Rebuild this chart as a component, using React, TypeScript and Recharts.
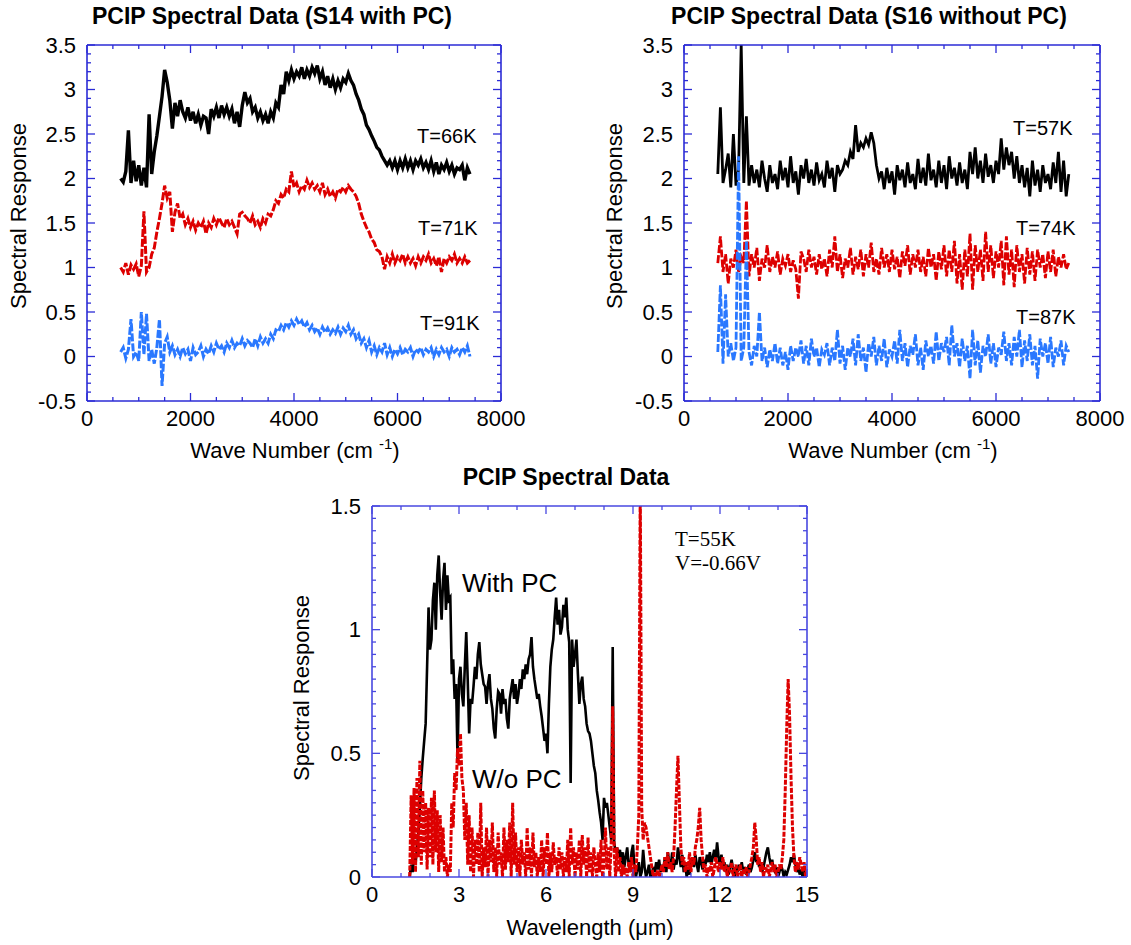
import React from 'react';
import { LineChart, Line, XAxis, YAxis } from 'recharts';

// ---------- categories / grids ----------
const waveNumbers: number[] = Array.from({ length: 136 }, (_, i) => 650 + 50 * i);
const wavelengths: number[] = Array.from({ length: 275 }, (_, i) => Math.round((1.3 + 0.05 * i) * 100) / 100);

// ---------- tick labels ----------
const waveTickLabels = [0, 2000, 4000, 6000, 8000];
const respTickLabels = [-0.5, 0, 0.5, 1, 1.5, 2, 2.5, 3, 3.5];
const lambdaTickLabels = [0, 3, 6, 9, 12, 15];
const respBottomTickLabels = [0, 0.5, 1, 1.5];

// ---------- S14 with PC ----------
const s14T66 = [
  2.0, 1.96, 2.08, 2.54, 1.95, 2.2, 1.97, 2.15, 1.92, 2.12,
  1.9, 2.72, 2.05, 2.3, 2.48, 2.7, 2.92, 3.22, 3.08, 2.88,
  2.56, 2.85, 2.7, 2.88, 2.75, 2.68, 2.8, 2.65, 2.75, 2.62,
  2.72, 2.6, 2.7, 2.68, 2.5, 2.78, 2.7, 2.8, 2.68, 2.82,
  2.72, 2.8, 2.7, 2.78, 2.62, 2.75, 2.58, 2.82, 2.97, 2.85,
  2.9, 2.75, 2.8, 2.68, 2.75, 2.65, 2.72, 2.62, 2.75, 2.68,
  2.85, 2.8, 3.05, 2.95, 3.2, 3.1, 3.22, 3.12, 3.2, 3.15,
  3.25, 3.12, 3.22, 3.15, 3.25, 3.18, 3.27, 3.12, 3.2, 3.05,
  3.15, 3.02, 3.12, 3.0, 3.1, 3.02, 3.12, 3.08, 3.18, 3.1,
  3.05, 2.95, 2.88, 2.78, 2.72, 2.6, 2.55, 2.48, 2.42, 2.35,
  2.32, 2.25, 2.2, 2.15, 2.2, 2.12, 2.2, 2.1, 2.2, 2.12,
  2.22, 2.12, 2.2, 2.1, 2.2, 2.15, 2.22, 2.12, 2.18, 2.1,
  2.2, 2.08, 2.18, 2.05, 2.15, 2.1, 2.18, 2.08, 2.15, 2.05,
  2.12, 2.1, 2.15, 1.98, 2.12, 2.05,
];
const s14T71 = [
  1.0, 0.95, 1.05, 0.92, 1.03, 0.98, 1.04, 0.9, 1.02, 1.63,
  0.95, 1.0, 1.15, 1.22, 1.4, 1.55, 1.72, 1.92, 1.78, 1.85,
  1.4, 1.62, 1.72, 1.55, 1.6, 1.48, 1.55, 1.45, 1.52, 1.42,
  1.5, 1.45, 1.52, 1.38, 1.5, 1.45, 1.55, 1.48, 1.56, 1.5,
  1.45, 1.55, 1.48, 1.52, 1.45, 1.38, 1.6, 1.62, 1.58, 1.55,
  1.5, 1.58, 1.48, 1.52, 1.45, 1.55, 1.5, 1.6, 1.58, 1.65,
  1.75, 1.72, 1.82, 1.78, 1.88, 1.85, 2.08, 1.9, 1.95, 1.85,
  1.92, 1.88, 1.98, 1.9, 1.95, 1.88, 1.92, 1.85, 1.95, 1.82,
  1.88, 1.8, 1.85, 1.78, 1.88, 1.85, 1.9, 1.85, 1.92, 1.88,
  1.85, 1.8, 1.72, 1.6, 1.52, 1.45, 1.4, 1.32, 1.28, 1.2,
  1.18, 1.12, 0.98, 1.12, 1.05, 1.15, 1.05, 1.12, 1.08, 1.15,
  1.05, 1.12, 1.05, 1.1, 1.02, 1.12, 1.05, 1.12, 1.08, 1.15,
  1.05, 1.1, 1.02, 1.12, 0.95, 1.1, 1.05, 1.12, 1.08, 1.15,
  1.05, 1.1, 1.05, 1.12, 1.05, 1.08,
];
const s14T91 = [
  0.05, 0.1, -0.02, 0.08, 0.42, 0.0, 0.05, -0.05, 0.5, 0.02,
  0.48, -0.05, 0.08, -0.08, 0.1, 0.42, -0.33, 0.15, 0.22, 0.05,
  0.12, 0.02, 0.08, 0.0, 0.1, 0.03, 0.08, -0.05, 0.1, 0.02,
  0.05, 0.12, 0.0, 0.08, 0.03, 0.12, 0.05, 0.15, 0.08, 0.12,
  0.05, 0.15, 0.1, 0.18, 0.1, 0.15, 0.12, 0.2, 0.12, 0.18,
  0.15, 0.1, 0.2, 0.12, 0.22, 0.15, 0.2, 0.15, 0.25, 0.2,
  0.3, 0.28, 0.35, 0.3, 0.38, 0.33, 0.4, 0.35, 0.42, 0.36,
  0.4, 0.33, 0.38, 0.3, 0.35, 0.28, 0.32, 0.25, 0.33, 0.27,
  0.32, 0.25, 0.3, 0.26, 0.33, 0.25, 0.32, 0.28, 0.35, 0.25,
  0.3, 0.2, 0.25, 0.15, 0.2, 0.1, 0.18, 0.05, 0.12, 0.02,
  0.1, 0.05, 0.15, 0.02, 0.1, 0.0, 0.08, 0.03, 0.1, 0.02,
  0.08, 0.05, 0.1, 0.0, 0.08, 0.05, 0.1, 0.02, 0.08, 0.05,
  0.1, 0.0, 0.08, 0.02, 0.1, 0.05, 0.08, 0.0, 0.1, 0.05,
  0.08, 0.02, 0.1, 0.05, 0.12, 0.0,
];

// ---------- S16 without PC ----------
const s16T57 = [
  2.05, 2.8, 1.95, 2.1, 2.28, 1.9, 2.5, 1.92, 2.1, 3.5,
  1.95, 2.7, 1.92, 2.15, 1.95, 2.1, 1.9, 2.2, 2.0, 1.85,
  2.15, 1.95, 2.05, 1.88, 2.2, 1.98, 2.12, 1.9, 2.25, 1.95,
  2.08, 1.82, 2.15, 2.0, 2.22, 1.95, 2.1, 1.92, 2.18, 1.98,
  2.05, 1.9, 2.2, 2.0, 2.12, 1.85, 2.15, 2.05, 2.1, 2.2,
  2.15, 2.3, 2.22, 2.6, 2.3, 2.4, 2.35, 2.45, 2.38, 2.52,
  2.4, 2.15, 2.0, 2.08, 1.88, 2.12, 1.95, 2.08, 1.82, 2.15,
  1.98, 2.1, 1.9, 2.18, 1.95, 2.05, 1.88, 2.22, 1.95, 2.12,
  1.92, 2.28, 1.98, 2.1, 1.9, 2.2, 1.95, 2.15, 1.88, 2.25,
  2.0, 2.12, 1.92, 2.18, 1.95, 2.1, 1.88, 2.3, 2.05, 2.35,
  2.0, 2.2, 1.95, 2.28, 2.02, 2.15, 1.95, 2.2, 2.05, 2.45,
  2.1, 2.35, 2.15, 2.3, 2.0, 2.25, 1.95, 2.15, 1.9, 2.12,
  1.8, 2.2, 1.92, 2.1, 1.85, 2.15, 1.95, 2.05, 1.88, 2.18,
  1.95, 2.3, 1.85, 2.2, 1.8, 2.05,
];
const s16T74 = [
  1.05, 1.35, 0.95, 1.15, 0.82, 1.1, 1.0, 1.2, 0.95, 1.12,
  1.05, 1.75, 0.9, 1.15, 1.0, 1.22, 0.85, 1.1, 1.0, 1.25,
  0.95, 1.12, 1.0, 1.18, 0.92, 1.1, 1.02, 1.15, 0.95, 1.08,
  0.98, 0.65, 1.18, 1.1, 0.95, 1.2, 1.0, 1.12, 0.92, 1.15,
  0.98, 1.1, 0.9, 1.2, 1.0, 1.35, 0.95, 1.15, 0.88, 1.1,
  1.0, 1.22, 0.92, 1.12, 0.98, 1.2, 0.9, 1.15, 1.0, 1.28,
  0.95, 1.1, 0.92, 1.22, 1.0, 1.15, 0.95, 1.2, 0.98, 1.12,
  0.88, 1.18, 1.02, 1.25, 0.92, 1.15, 1.0, 1.2, 0.95, 1.12,
  0.9, 1.22, 1.0, 1.15, 0.85, 1.18, 0.98, 1.25, 0.9, 1.2,
  0.95, 1.3, 0.82, 1.15, 0.75, 1.2, 0.9, 1.38, 0.75, 1.25,
  0.95, 1.2, 0.85, 1.4, 0.95, 1.25, 0.88, 1.18, 1.0, 1.3,
  0.8, 1.35, 0.92, 1.2, 0.78, 1.25, 0.95, 1.15, 0.82, 1.22,
  0.92, 1.18, 0.85, 1.2, 1.0, 1.15, 0.88, 1.18, 0.95, 1.2,
  0.9, 1.12, 1.0, 1.15, 0.98, 1.05,
];
const s16T87 = [
  0.05, 0.8, -0.08, 0.7, 0.0, 0.15, -0.05, 0.1, 2.25, -0.05,
  0.1, 1.3, 0.05, -0.1, 0.12, 0.0, 0.5, -0.05, 0.1, -0.12,
  0.08, -0.05, 0.15, -0.08, 0.1, -0.1, 0.05, -0.15, 0.12, -0.05,
  0.1, 0.0, 0.18, -0.08, 0.12, -0.1, 0.2, 0.0, 0.1, -0.12,
  0.08, 0.02, 0.15, -0.1, 0.1, -0.05, 0.3, -0.08, 0.12, -0.15,
  0.1, 0.0, 0.2, -0.1, 0.25, -0.05, 0.1, -0.18, 0.15, 0.0,
  0.22, -0.1, 0.12, -0.05, 0.2, -0.12, 0.08, 0.0, 0.18, -0.08,
  0.3, -0.05, 0.15, -0.12, 0.12, 0.02, 0.25, -0.1, 0.1, -0.15,
  0.18, 0.0, 0.12, -0.08, 0.28, -0.05, 0.15, 0.05, 0.22, -0.1,
  0.35, 0.0, 0.15, -0.12, 0.2, -0.05, 0.12, -0.25, 0.3, -0.1,
  0.18, -0.18, 0.12, 0.0, 0.25, -0.08, 0.15, -0.12, 0.1, 0.02,
  0.28, -0.05, 0.15, -0.1, 0.22, 0.0, 0.3, -0.12, 0.18, -0.05,
  0.25, -0.1, 0.12, -0.25, 0.2, 0.0, 0.15, -0.08, 0.22, -0.12,
  0.1, 0.0, 0.18, -0.1, 0.12, 0.05,
];

// ---------- wavelength panel ----------
const withPC = [
  0.0, 0.05, 0.02, 0.08, 0.05, 0.12, 0.18, 0.28, 0.4, 0.48, 0.55, 0.62, 0.85, 1.09,
  0.92, 0.96, 1.12, 1.19, 1.0, 1.22, 1.3, 1.15, 1.04, 1.2, 1.27, 1.08, 1.22, 1.12, 1.13, 0.82, 0.88, 0.72, 0.78, 0.47,
  0.8, 0.85, 0.74, 0.69, 0.85, 0.99, 0.8, 0.58, 0.72, 0.7, 0.77, 0.85, 0.8, 0.9, 0.95, 0.86, 0.82, 0.78, 0.77, 0.7,
  0.78, 0.82, 0.72, 0.68, 0.6, 0.56, 0.68, 0.75, 0.74, 0.66, 0.76, 0.7, 0.72, 0.64, 0.6, 0.72, 0.76, 0.8, 0.72, 0.78,
  0.7, 0.74, 0.8, 0.76, 0.84, 0.8, 0.86, 0.82, 0.88, 0.9, 0.97, 0.85, 0.8, 0.76, 0.72, 0.74, 0.69, 0.65, 0.6, 0.55,
  0.58, 0.5, 0.7, 0.85, 0.92, 0.96, 1.05, 1.13, 1.02, 1.08, 0.98, 1.01, 1.1, 1.05, 1.13, 1.0, 0.95, 0.38, 0.96, 0.85,
  0.9, 0.96, 0.82, 0.7, 0.78, 0.81, 0.72, 0.69, 0.62, 0.59, 0.58, 0.55, 0.5, 0.45, 0.42, 0.35, 0.31, 0.26, 0.22, 0.15,
  0.32, 0.28, 0.3, 0.25, 0.2, 0.15, 0.93, 0.14, 0.1, 0.12, 0.08, 0.11, 0.05, 0.1, 0.04, 0.08, 0.12, 0.05, 0.02, 0.1,
  0.13, 0.04, 0.0, 0.03, 0.06, 0.0, 0.02, 0.11, 0.04, 0.0, 0.02, 0.05, 0.0, 0.01, 0.04, 0.02, 0.06, 0.03, 0.07, 0.02,
  0.05, 0.03, 0.08, 0.02, 0.1, 0.06, 0.04, 0.1, 0.03, 0.07, 0.05, 0.12, 0.08, 0.04, 0.09, 0.02, 0.06, 0.0, 0.03, 0.01,
  0.05, 0.08, 0.04, 0.09, 0.05, 0.02, 0.08, 0.06, 0.03, 0.07, 0.05, 0.09, 0.06, 0.1, 0.05, 0.08, 0.11, 0.07, 0.14, 0.08,
  0.05, 0.09, 0.04, 0.06, 0.02, 0.05, 0.01, 0.04, 0.07, 0.03, 0.0, 0.04, 0.02, 0.05, 0.03, 0.06, 0.02, 0.04, 0.01, 0.03,
  0.05, 0.02, 0.04, 0.07, 0.1, 0.06, 0.08, 0.04, 0.06, 0.02, 0.04, 0.07, 0.1, 0.12, 0.08, 0.05, 0.07, 0.03, 0.02, 0.04,
  0.0, 0.02, 0.05, 0.03, 0.0, 0.02, 0.01, 0.03, 0.05, 0.08, 0.06, 0.09, 0.05, 0.02, 0.04, 0.01, 0.03, 0.0, 0.02, 0.0,
  0.01,
];
const withoutPC = [
  0.0, 0.33, 0.05, 0.36, 0.02, 0.4, 0.08, 0.47, 0.05, 0.35, 0.1, 0.3, 0.03, 0.28,
  0.08, 0.32, 0.05, 0.35, 0.1, 0.27, 0.02, 0.25, 0.06, 0.2, 0.02, 0.08, 0.0, 0.05, 0.02, 0.3, 0.2, 0.42, 0.35, 0.52,
  0.45, 0.58, 0.4, 0.35, 0.15, 0.3, 0.05, 0.25, 0.02, 0.2, 0.0, 0.15, 0.05, 0.18, 0.02, 0.3, 0.0, 0.12, 0.04, 0.2,
  0.0, 0.15, 0.06, 0.22, 0.02, 0.12, 0.0, 0.18, 0.05, 0.1, 0.0, 0.2, 0.03, 0.15, 0.06, 0.22, 0.0, 0.3, 0.05, 0.18,
  0.02, 0.12, 0.0, 0.15, 0.05, 0.1, 0.0, 0.2, 0.03, 0.12, 0.0, 0.18, 0.04, 0.1, 0.0, 0.08, 0.02, 0.15, 0.0, 0.12,
  0.05, 0.18, 0.0, 0.1, 0.02, 0.14, 0.05, 0.08, 0.0, 0.12, 0.03, 0.1, 0.0, 0.08, 0.02, 0.15, 0.0, 0.2, 0.05, 0.12,
  0.0, 0.1, 0.03, 0.15, 0.0, 0.17, 0.05, 0.12, 0.0, 0.16, 0.02, 0.1, 0.0, 0.12, 0.05, 0.0, 0.1, 0.02, 0.15, 0.0,
  0.05, 0.2, 0.03, 0.12, 0.0, 0.15, 0.69, 0.1, 0.0, 0.12, 0.02, 0.08, 0.0, 0.05, 0.01, 0.04, 0.0, 0.06, 0.02, 0.08,
  0.0, 0.05, 0.02, 0.12, 0.25, 1.6, 0.28, 0.15, 0.22, 0.2, 0.16, 0.12, 0.08, 0.04, 0.0, 0.02, 0.0, 0.03, 0.0, 0.02,
  0.05, 0.02, 0.08, 0.04, 0.1, 0.03, 0.06, 0.02, 0.08, 0.2, 0.35, 0.49, 0.3, 0.12, 0.05, 0.08, 0.02, 0.06, 0.03, 0.1,
  0.02, 0.08, 0.05, 0.12, 0.15, 0.2, 0.28, 0.15, 0.08, 0.02, 0.05, 0.0, 0.04, 0.02, 0.06, 0.0, 0.03, 0.08, 0.05, 0.02,
  0.06, 0.03, 0.08, 0.02, 0.05, 0.0, 0.04, 0.02, 0.06, 0.0, 0.03, 0.05, 0.0, 0.02, 0.05, 0.0, 0.03, 0.01, 0.04, 0.0,
  0.02, 0.05, 0.08, 0.12, 0.22, 0.15, 0.05, 0.08, 0.02, 0.06, 0.0, 0.04, 0.02, 0.05, 0.0, 0.03, 0.06, 0.02, 0.05, 0.0,
  0.02, 0.05, 0.03, 0.08, 0.15, 0.35, 0.6, 0.8, 0.65, 0.4, 0.2, 0.08, 0.02, 0.06, 0.03, 0.08, 0.05, 0.02, 0.06, 0.0,
  0.03,
];

// ---------- styles ----------
const AXIS = '#2b2bd6';
const AXIS3 = '#4848e0';
const SANS = '"Liberation Sans", Arial, Helvetica, sans-serif';
const SERIF = '"Liberation Serif", "Times New Roman", Times, serif';
const BLACK = '#000000';
const RED = '#dd0000';
const BLUE = '#2a78ff';

// ---------- table building ----------
const s14Rows = waveNumbers.map((x, i) => ({ x, t66: s14T66[i], t71: s14T71[i], t91: s14T91[i] }));
const s16Rows = waveNumbers.map((x, i) => ({ x, t57: s16T57[i], t74: s16T74[i], t87: s16T87[i] }));
const lambdaRows = wavelengths.map((x, i) => ({ x, pc: withPC[i], nopc: withoutPC[i] }));

function steps(lo: number, hi: number, step: number): number[] {
  const out: number[] = [];
  const n = Math.round((hi - lo) / step);
  for (let i = 0; i <= n; i++) out.push(Math.round((lo + i * step) * 1000) / 1000);
  return out;
}

const isMajor = (v: number, majors: number[]) => majors.some((m) => Math.abs(m - v) < 1e-6);

type Side = 'left' | 'right' | 'top' | 'bottom';

function makeTick(side: Side, majors: number[], color: string) {
  return (props: any) => {
    const x = Number(props.x);
    const y = Number(props.y);
    const v = Number(props.payload?.value);
    const major = isMajor(v, majors);
    const len = major ? 8 : 4;
    let x2 = x;
    let y2 = y;
    if (side === 'left') x2 = x + len;
    else if (side === 'right') x2 = x - len;
    else if (side === 'top') y2 = y + len;
    else y2 = y - len;
    let label: React.ReactNode = null;
    if (major && side === 'left') {
      label = (
        <text x={x - 11} y={y} textAnchor="end" dominantBaseline="central" fontFamily={SANS} fontSize={22} fill="#000">
          {String(v)}
        </text>
      );
    } else if (major && side === 'bottom') {
      label = (
        <text x={x} y={y + 17} textAnchor="middle" dominantBaseline="central" fontFamily={SANS} fontSize={22} fill="#000">
          {String(v)}
        </text>
      );
    }
    return (
      <g>
        <line x1={x} y1={y} x2={x2} y2={y2} stroke={color} strokeWidth={1.3} />
        {label}
      </g>
    );
  };
}

function frameAxes(
  xDomain: [number, number],
  yDomain: [number, number],
  xAll: number[],
  yAll: number[],
  xMajors: number[],
  yMajors: number[],
  color: string
) {
  const axisLine = { stroke: color, strokeWidth: 1.6 };
  const common = { tickSize: 0, tickMargin: 0, tickLine: false, interval: 0 as const, allowDataOverflow: true, axisLine };
  return [
    <XAxis key="xb" xAxisId="b" orientation="bottom" dataKey="x" type="number" domain={xDomain} ticks={xAll} height={30} tick={makeTick('bottom', xMajors, color)} {...common} />,
    <XAxis key="xt" xAxisId="t" orientation="top" dataKey="x" type="number" domain={xDomain} ticks={xAll} height={10} tick={makeTick('top', xMajors, color)} {...common} />,
    <YAxis key="yl" yAxisId="l" orientation="left" type="number" domain={yDomain} ticks={yAll} width={40} tick={makeTick('left', yMajors, color)} {...common} />,
    <YAxis key="yr" yAxisId="r" orientation="right" type="number" domain={yDomain} ticks={yAll} width={10} tick={makeTick('right', yMajors, color)} {...common} />,
  ];
}

const abs = (left: number, top: number): React.CSSProperties => ({ position: 'absolute', left, top });

function CText({ x, y, children, size = 22, bold = false, family = SANS, rotate = false }: any) {
  return (
    <div
      style={{
        position: 'absolute',
        left: x,
        top: y,
        transform: `translate(-50%, -50%)${rotate ? ' rotate(-90deg)' : ''}`,
        whiteSpace: 'nowrap',
        fontFamily: family,
        fontSize: size,
        fontWeight: bold ? 'bold' : 'normal',
        lineHeight: 1,
        color: '#000',
      }}
    >
      {children}
    </div>
  );
}

function LText({ x, y, children, size = 20, family = SANS }: any) {
  return (
    <div
      style={{
        position: 'absolute',
        left: x,
        top: y,
        transform: 'translateY(-50%)',
        whiteSpace: 'nowrap',
        fontFamily: family,
        fontSize: size,
        lineHeight: 1,
        color: '#000',
      }}
    >
      {children}
    </div>
  );
}

const waveTicksAll = steps(0, 8000, 500);
const respTicksAll = steps(-0.5, 3.5, 0.1);
const lambdaTicksAll = steps(0, 15, 1);
const respBottomTicksAll = steps(0, 1.5, 0.05);

const WaveTitle = () => (
  <span>
    Wave Number (cm <sup style={{ fontSize: 15, verticalAlign: 'top', position: 'relative', top: -4 }}>-1</sup>)
  </span>
);

export default function App() {
  const lineCommon = { dot: false, isAnimationActive: false, xAxisId: 'b', yAxisId: 'l', type: 'linear' as const };
  return (
    <div style={{ position: 'absolute', left: 0, top: 0, width: 1131, height: 945, background: '#fff', overflow: 'hidden' }}>
      {/* Panel 1 */}
      <div style={abs(0, 0)}>
        <LineChart width={545} height={470} data={s14Rows} margin={{ left: 47, right: 34, top: 35, bottom: 39 }}>
          {frameAxes([0, 8000], [-0.5, 3.5], waveTicksAll, respTicksAll, waveTickLabels, respTickLabels, AXIS)}
          <Line {...lineCommon} dataKey="t66" stroke={BLACK} strokeWidth={3.4} />
          <Line {...lineCommon} dataKey="t71" stroke={RED} strokeWidth={3} strokeDasharray="8 2" />
          <Line {...lineCommon} dataKey="t91" stroke={BLUE} strokeWidth={3} strokeDasharray="8 2" />
        </LineChart>
      </div>
      {/* Panel 2 */}
      <div style={abs(560, 0)}>
        <LineChart width={571} height={470} data={s16Rows} margin={{ left: 84, right: 21, top: 35, bottom: 39 }}>
          {frameAxes([0, 8000], [-0.5, 3.5], waveTicksAll, respTicksAll, waveTickLabels, respTickLabels, AXIS)}
          <Line {...lineCommon} dataKey="t57" stroke={BLACK} strokeWidth={2.8} />
          <Line {...lineCommon} dataKey="t74" stroke={RED} strokeWidth={2.8} strokeDasharray="8 2" />
          <Line {...lineCommon} dataKey="t87" stroke={BLUE} strokeWidth={2.8} strokeDasharray="8 2" />
        </LineChart>
      </div>
      {/* Panel 3 */}
      <div style={abs(280, 460)}>
        <LineChart width={560} height={485} data={lambdaRows} margin={{ left: 52, right: 23, top: 36, bottom: 38 }}>
          {frameAxes([0, 15], [0, 1.5], lambdaTicksAll, respBottomTicksAll, lambdaTickLabels, respBottomTickLabels, AXIS3)}
          <Line {...lineCommon} dataKey="pc" stroke={BLACK} strokeWidth={2.6} />
          <Line {...lineCommon} dataKey="nopc" stroke={RED} strokeWidth={3} strokeDasharray="5 1.5" />
        </LineChart>
      </div>

      {/* titles */}
      <CText x={272} y={16} size={23} bold>PCIP Spectral Data (S14 with PC)</CText>
      <CText x={869} y={16} size={23} bold>PCIP Spectral Data (S16 without PC)</CText>
      <CText x={566} y={477} size={23} bold>PCIP Spectral Data</CText>

      {/* axis titles */}
      <CText x={295} y={451}><WaveTitle /></CText>
      <CText x={893} y={451}><WaveTitle /></CText>
      <CText x={590} y={928}>Wavelength (μm)</CText>
      <CText x={19} y={216} rotate>Spectral Response</CText>
      <CText x={615} y={216} rotate>Spectral Response</CText>
      <CText x={302} y={688} rotate>Spectral Response</CText>

      {/* annotations */}
      <LText x={417} y={136}>T=66K</LText>
      <LText x={418} y={228}>T=71K</LText>
      <LText x={420} y={323}>T=91K</LText>
      <LText x={1013} y={128}>T=57K</LText>
      <LText x={1016} y={228}>T=74K</LText>
      <LText x={1016} y={317}>T=87K</LText>
      <LText x={462} y={583} size={26}>With PC</LText>
      <LText x={472} y={779} size={26}>W/o PC</LText>
      <LText x={675} y={539} size={21} family={SERIF}>T=55K</LText>
      <LText x={675} y={563} size={21} family={SERIF}>V=-0.66V</LText>
    </div>
  );
}
